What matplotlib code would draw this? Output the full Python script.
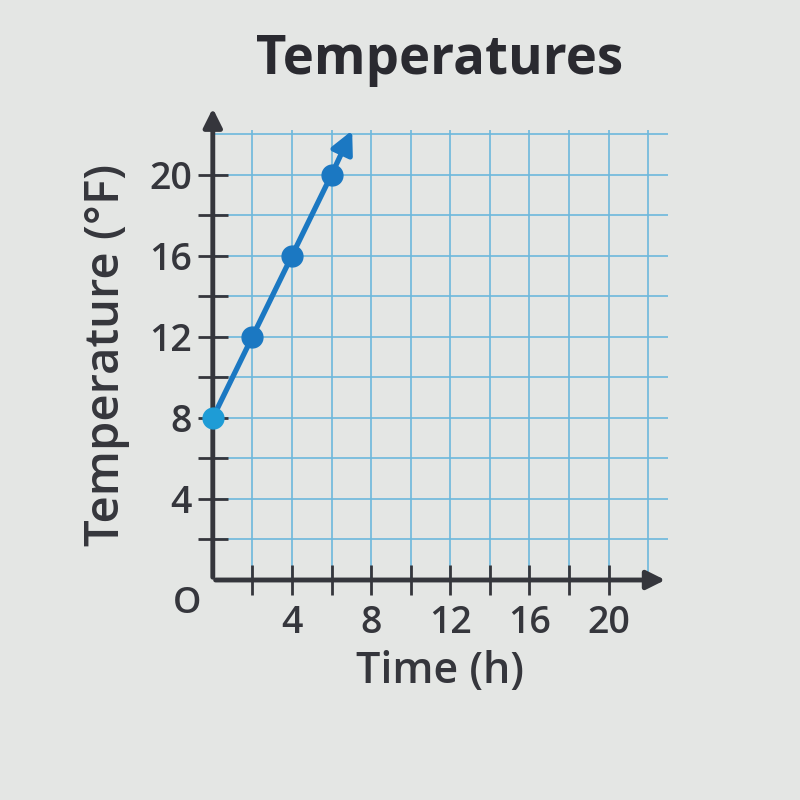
import matplotlib.pyplot as plt

# data
time_h = [0, 2, 4, 6]
temp_f = [8, 12, 16, 20]
arrow_tip = (7.1, 22.3)  # where the ray continues to
x_ticks = [4, 8, 12, 16, 20]
y_ticks = [4, 8, 12, 16, 20]

plt.rcParams['font.family'] = ['Open Sans', 'DejaVu Sans']

bg = '#e4e6e4'
ink = '#35363c'
blue = '#1b78c2'

fig = plt.figure(figsize=(8, 8), dpi=100, facecolor=bg)
ax = fig.add_axes([0.266, 0.275, 0.569, 0.5625])
ax.set_facecolor(bg)

ax.set_xlim(0, 23)
ax.set_ylim(0, 22.2)

# light blue grid every 2 units
for gx in range(2, 23, 2):
    ax.axvline(gx, color='#6cb8dc', lw=1.2, zorder=1)
for gy in range(2, 23, 2):
    ax.axhline(gy, color='#6cb8dc', lw=1.2, zorder=1)

for s in ax.spines.values():
    s.set_visible(False)

# axes with arrow heads
ax.annotate('', xy=(23.0, 0), xytext=(0, 0),
            arrowprops=dict(arrowstyle='-|>', color=ink, lw=3.5, mutation_scale=28),
            annotation_clip=False, zorder=3)
ax.annotate('', xy=(0, 23.4), xytext=(0, 0),
            arrowprops=dict(arrowstyle='-|>', color=ink, lw=3.5, mutation_scale=28),
            annotation_clip=False, zorder=3)

# tick marks every 2, labels every 4
ax.set_xticks(range(2, 22, 2))
ax.set_yticks(range(2, 22, 2))
ax.set_xticklabels([str(t) if t in x_ticks else '' for t in range(2, 22, 2)])
ax.set_yticklabels([str(t) if t in y_ticks else '' for t in range(2, 22, 2)])
ax.tick_params(direction='inout', length=22, width=2, color=ink,
               labelsize=27, labelcolor=ink)
ax.tick_params(axis='x', pad=6)
ax.tick_params(axis='y', pad=4)
for lab in ax.get_xticklabels() + ax.get_yticklabels():
    lab.set_fontweight('semibold')
ax.text(-0.6, -0.3, 'O', ha='right', va='top', fontsize=26, color=ink,
        fontweight='semibold')

# the data line with dots
ax.plot(time_h, temp_f, color=blue, lw=3.8, zorder=4, clip_on=False)
ax.plot(time_h[1:], temp_f[1:], 'o', color=blue, ms=15, zorder=5, clip_on=False)
ax.plot(time_h[:1], temp_f[:1], 'o', color='#1e9cd6', ms=15, zorder=5, clip_on=False)
ax.annotate('', xy=arrow_tip, xytext=(time_h[-1], temp_f[-1]),
            arrowprops=dict(arrowstyle='-|>', color=blue, lw=3.8, mutation_scale=34),
            annotation_clip=False, zorder=4)

ax.set_xlabel('Time (h)', fontsize=31, color=ink, labelpad=6,
              fontweight='semibold')
ax.set_ylabel('Temperature (°F)', fontsize=34, color=ink, labelpad=14,
              fontweight='semibold')
fig.text(0.55, 0.925, 'Temperatures', ha='center', va='center',
         fontsize=38, fontweight='bold', color='#2a2a30')

fig.savefig('out.png', dpi=100, facecolor=bg)
